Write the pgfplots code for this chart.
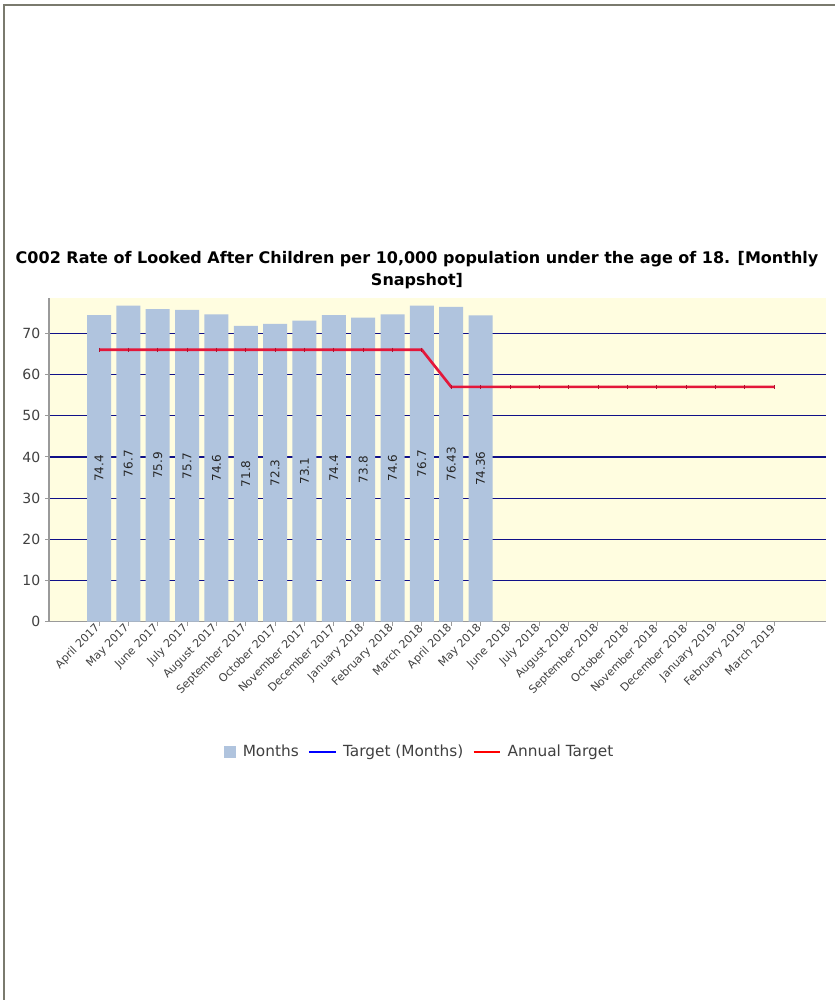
\documentclass[border=0pt]{standalone}
\usepackage{fontspec}
\setmainfont{DejaVu Sans}
\usepackage{pgfplots}
\pgfplotsset{compat=1.18}
\definecolor{barblue}{HTML}{B0C4DE}
\definecolor{bgyellow}{HTML}{FFFDE0}
\definecolor{gridnavy}{HTML}{101088}
\definecolor{tgtred}{HTML}{E3173A}
\definecolor{tgtdark}{HTML}{B01030}
\definecolor{axisgray}{HTML}{9A9A9A}
\definecolor{framegray}{HTML}{7A7A6E}
\definecolor{txtgray}{HTML}{404040}
\definecolor{legblue}{HTML}{0000FF}
\definecolor{legred}{HTML}{FF0000}
\begin{document}
\begin{tikzpicture}
\begin{scope}[x=0.75pt,y=0.75pt]
\path[use as bounding box] (0,0) rectangle (835,-1000);
\fill[framegray] (3,-4) rectangle (835,-6);
\fill[framegray] (3,-4) rectangle (5,-1000);
\node[font=\bfseries\fontsize{12}{17}\selectfont, align=center, text=black] at (417,-270)
 {C002 Rate of Looked After Children per 10,000 population under the age of 18. [Monthly\\Snapshot]};
\end{scope}
\begin{axis}[
 at={(36.75pt,-466.275pt)}, anchor=south west,
 scale only axis, width=582.75pt, height=242.55pt,
 xmin=-1.704, xmax=24.77, ymin=0, ymax=78.5,
 axis x line*=bottom, axis y line*=left,
 x axis line style={-}, y axis line style={-},
 axis line style={axisgray, line width=0.9pt},
 axis background/.style={fill=bgyellow},
 ymajorgrids, grid style={gridnavy, line width=0.9pt},
 ytick={0,10,...,70},
 xtick={0,...,23},
 xticklabels={April 2017,May 2017,June 2017,July 2017,August 2017,September 2017,October 2017,November 2017,December 2017,January 2018,February 2018,March 2018,April 2018,May 2018,June 2018,July 2018,August 2018,September 2018,October 2018,November 2018,December 2018,January 2019,February 2019,March 2019},
 tick style={axisgray, line width=0.75pt},
 tick align=outside, major tick length=3pt,
 /pgf/number format/assume math mode=true,
 yticklabel style={font=\fontsize{10.5}{12}\selectfont, text=txtgray},
 xticklabel style={font=\fontsize{8.3}{9}\selectfont, text=txtgray, rotate=45, anchor=east, inner sep=1pt},
 legend style={at={(rel axis cs:0.4775,-0.402)}, anchor=center, draw=none, fill=none,
   font=\fontsize{11.5}{13}\selectfont, legend columns=3,
   /tikz/every odd column/.append style={column sep=3pt},
   /tikz/every even column/.append style={column sep=5pt}},
]
\addplot[ybar, bar width=18pt, fill=barblue, draw=none,
 visualization depends on=rawy\as\rawy,
 nodes near coords,
 nodes near coords style={shift={(axis direction cs:0,-\rawy/2)}, rotate=90, anchor=center, font=\fontsize{9}{10}\selectfont, text=black!85},
 legend image code/.code={\fill[barblue] (0pt,-4.5pt) rectangle (9pt,4.5pt);}]
 coordinates {(0,74.4) (1,76.7) (2,75.9) (3,75.7) (4,74.6) (5,71.8) (6,72.3) (7,73.1) (8,74.4) (9,73.8) (10,74.6) (11,76.7) (12,76.43) (13,74.36)};
\addlegendentry{\textcolor{txtgray}{Months}}
\addlegendimage{legend image code/.code={\draw[legblue, line width=1.2pt] (0pt,0pt) -- (20pt,0pt);}}
\addlegendentry{\textcolor{txtgray}{Target (Months)}}
\addlegendimage{legend image code/.code={\draw[legred, line width=1.2pt] (0pt,0pt) -- (20pt,0pt);}}
\addlegendentry{\textcolor{txtgray}{Annual Target}}
\addplot[forget plot, tgtred, line width=2pt, mark=|, mark size=1.6pt, mark options={draw=tgtdark, line width=0.6pt}]
 coordinates {(0,66) (1,66) (2,66) (3,66) (4,66) (5,66) (6,66) (7,66) (8,66) (9,66) (10,66) (11,66) (12,57) (13,57) (14,57) (15,57) (16,57) (17,57) (18,57) (19,57) (20,57) (21,57) (22,57) (23,57)};
\end{axis}
\end{tikzpicture}
\end{document}
